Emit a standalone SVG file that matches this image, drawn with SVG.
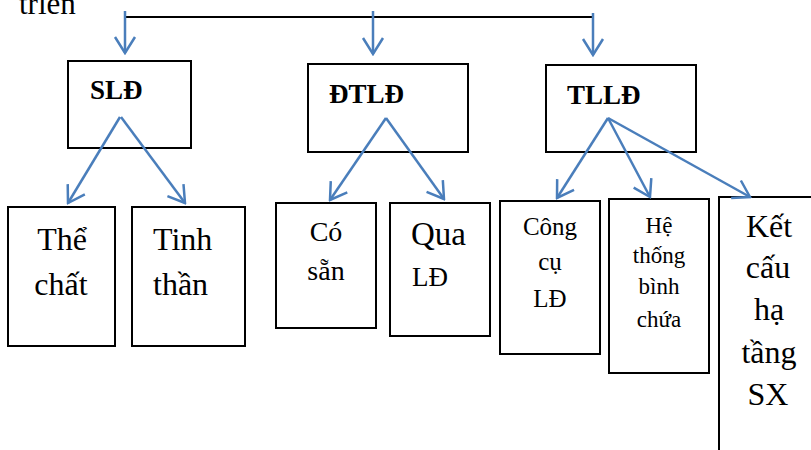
<svg xmlns="http://www.w3.org/2000/svg" width="811" height="450" viewBox="0 0 811 450">
<style>
.box{fill:#fff;stroke:#000;stroke-width:2}
text{font-family:'Liberation Serif','Times New Roman','DejaVu Serif',serif;fill:#000}
.t{text-anchor:middle}
.s{text-anchor:start}
.b{font-weight:bold;text-anchor:start;font-size:27px}
.arr{stroke:#4A7EBB;stroke-width:2.5;fill:none;marker-end:url(#ah)}
</style>
<defs>
<marker id="ah" markerUnits="userSpaceOnUse" viewBox="-20 -12 22 24" refX="0" refY="0" markerWidth="22" markerHeight="24" orient="auto">
<path d="M-16,-10 L0,0 L-16,10" fill="none" stroke="#4A7EBB" stroke-width="2.5"/>
</marker>
</defs>
<rect width="811" height="450" fill="#fff"/>
<text class="s" x="19" y="14" font-family="Liberation Serif, serif" font-size="31">triển</text>

<g id="sld">
<rect class="box" x="68" y="61" width="123" height="87"/>
<text class="b" x="90" y="99" font-family="Liberation Serif, serif">SLĐ</text>
</g>
<g id="dtld">
<rect class="box" x="308" y="64" width="160" height="88"/>
<text class="b" x="329" y="103" font-family="Liberation Serif, serif">ĐTLĐ</text>
</g>
<g id="tlld">
<rect class="box" x="546" y="65" width="150" height="87"/>
<text class="b" x="567" y="104" font-family="Liberation Serif, serif">TLLĐ</text>
</g>

<g id="the-chat" font-family="Liberation Serif, serif">
<rect class="box" x="8" y="207" width="107" height="139"/>
<text class="t" x="62" y="250" font-size="32">Thể</text>
<text class="t" x="61" y="295" font-size="32">chất</text>
</g>
<g id="tinh-than" font-family="Liberation Serif, serif">
<rect class="box" x="132" y="207" width="113" height="139"/>
<text class="s" x="153" y="250" font-size="32">Tinh</text>
<text class="s" x="153" y="295" font-size="32">thần</text>
</g>
<g id="co-san" font-family="Liberation Serif, serif">
<rect class="box" x="276" y="203" width="100" height="125"/>
<text class="t" x="326" y="241" font-size="28">Có</text>
<text class="t" x="326" y="280" font-size="28">sẵn</text>
</g>
<g id="qua-ld" font-family="Liberation Serif, serif">
<rect class="box" x="390" y="203" width="100" height="133"/>
<text class="s" x="411" y="245" font-size="33">Qua</text>
<text class="s" x="412" y="286" font-size="27">LĐ</text>
</g>
<g id="cong-cu" font-family="Liberation Serif, serif">
<rect class="box" x="500" y="201" width="100" height="153"/>
<text class="t" x="550" y="235" font-size="25">Công</text>
<text class="t" x="550" y="270" font-size="25">cụ</text>
<text class="t" x="550" y="307" font-size="25">LĐ</text>
</g>
<g id="he-thong" font-family="Liberation Serif, serif">
<rect class="box" x="609" y="199" width="100" height="174"/>
<text class="t" x="659" y="233" font-size="23">Hệ</text>
<text class="t" x="659" y="263" font-size="23">thống</text>
<text class="t" x="659" y="294" font-size="23">bình</text>
<text class="t" x="659" y="327" font-size="23">chứa</text>
</g>
<g id="ket-cau" font-family="Liberation Serif, serif">
<rect class="box" x="719" y="197" width="110" height="280"/>
<text class="t" x="769" y="237" font-size="32">Kết</text>
<text class="t" x="768" y="278" font-size="32">cấu</text>
<text class="t" x="769" y="320" font-size="32">hạ</text>
<text class="t" x="769" y="363" font-size="32">tầng</text>
<text class="t" x="768" y="405" font-size="32">SX</text>
</g>

<g id="connectors">
<line x1="124" y1="17" x2="594" y2="17" stroke="#000" stroke-width="2"/>
<line class="arr" x1="125" y1="11" x2="125" y2="53"/>
<line class="arr" x1="373" y1="11" x2="373" y2="54"/>
<line class="arr" x1="593" y1="13" x2="593" y2="55"/>
<line class="arr" x1="120" y1="117" x2="68" y2="203"/>
<line class="arr" x1="121" y1="117" x2="185" y2="203"/>
<line class="arr" x1="386" y1="118" x2="330" y2="200"/>
<line class="arr" x1="386" y1="118" x2="444" y2="199"/>
<line class="arr" x1="608" y1="118" x2="557" y2="198"/>
<line class="arr" x1="608" y1="118" x2="650" y2="197"/>
<line class="arr" x1="608" y1="118" x2="750" y2="197"/>
</g>
</svg>
